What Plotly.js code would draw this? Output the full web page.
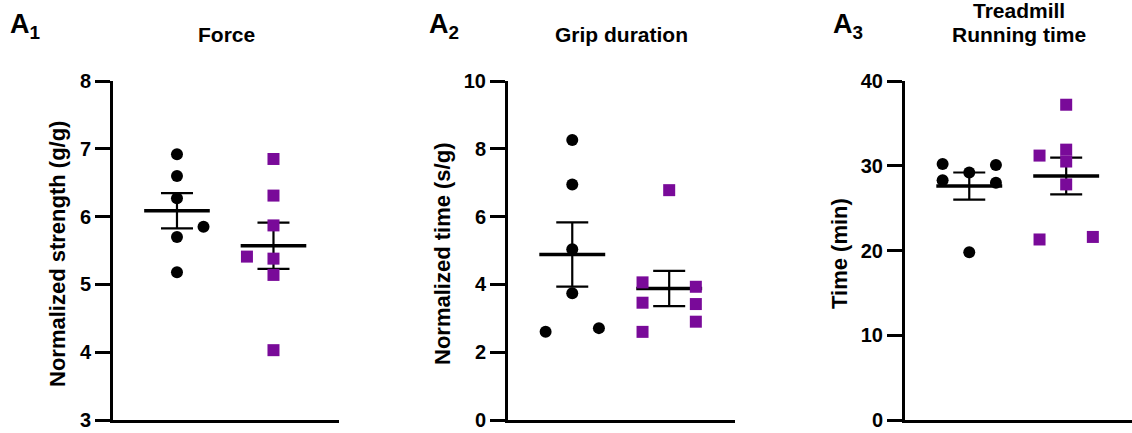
<!DOCTYPE html>
<html>
<head>
<meta charset="utf-8">
<script src="https://cdn.plot.ly/plotly-3.0.1.min.js"></script>
<style>html,body{margin:0;padding:0;background:#fff;}#chart{width:1132px;height:433px;}</style>
</head>
<body>
<div id="chart"></div>
<script>
// ---- data ----
const panelLetters = ['A<sub>1</sub>', 'A<sub>2</sub>', 'A<sub>3</sub>'];
const panelTitles = [['Force'], ['Grip duration'], ['Treadmill', 'Running time']];
const yTitles = ['Normalized strength (g/g)', 'Normalized time (s/g)', 'Time (min)'];
const yRanges = [[3, 8], [0, 10], [0, 40]];
const yDticks = [1, 2, 10];

// Force
const forceBlack = [6.92, 6.60, 6.27, 5.85, 5.70, 5.18];
const forceBlackCol = [0, 0, 0, 1, 0, 0];
const forcePurple = [6.85, 6.31, 5.87, 5.41, 5.38, 5.14, 4.03];
const forcePurpleCol = [0, 0, 0, -1, 0, 0, 0];
// Grip duration
const gripBlack = [8.26, 6.95, 5.04, 3.74, 2.60, 2.71];
const gripBlackCol = [0, 0, 0, 0, -1, 1];
const gripPurple = [6.78, 4.06, 3.46, 2.60, 3.93, 3.42, 2.90];
const gripPurpleCol = [0, -1, -1, -1, 1, 1, 1];
// Treadmill running time
const runBlack = [30.2, 28.3, 29.2, 19.8, 30.1, 28.0];
const runBlackCol = [-1, -1, 0, 0, 1, 1];
const runPurple = [37.2, 31.9, 30.5, 27.8, 31.2, 21.3, 21.6];
const runPurpleCol = [0, 0, 0, 0, -1, -1, 1];

const groups = [
  [[forceBlack, forceBlackCol], [forcePurple, forcePurpleCol]],
  [[gripBlack, gripBlackCol], [gripPurple, gripPurpleCol]],
  [[runBlack, runBlackCol], [runPurple, runPurpleCol]]
];

// ---- style ----
const BLACK = '#000000';
const PURPLE = '#790a99';
const colors = [BLACK, PURPLE];
const symbols = ['circle', 'square'];
const FONT = 'Liberation Sans, Arial, Helvetica, sans-serif';
const W = 1132, H = 433;
const xDomPx = [[113, 339], [508, 735], [905, 1132]];
const yTopPx = 81, yBotPx = 420;
const spread = 0.275;
const meanHalf = 0.34;

function mean(a) { return a.reduce((s, v) => s + v, 0) / a.length; }
function sem(a) {
  const m = mean(a);
  const v = a.reduce((s, x) => s + (x - m) * (x - m), 0) / (a.length - 1);
  return Math.sqrt(v) / Math.sqrt(a.length);
}

const traces = [];
const layout = {
  width: W, height: H,
  margin: {l: 0, r: 0, t: 0, b: 0},
  paper_bgcolor: '#fff', plot_bgcolor: '#fff',
  showlegend: false,
  hovermode: false,
  font: {family: FONT, color: BLACK},
  annotations: []
};

for (let p = 0; p < 3; p++) {
  const xa = p === 0 ? 'x' : 'x' + (p + 1);
  const ya = p === 0 ? 'y' : 'y' + (p + 1);
  const xKey = p === 0 ? 'xaxis' : 'xaxis' + (p + 1);
  const yKey = p === 0 ? 'yaxis' : 'yaxis' + (p + 1);
  layout[xKey] = {
    domain: [xDomPx[p][0] / W, xDomPx[p][1] / W],
    range: [0.337, 2.679],
    anchor: ya,
    showline: true, linewidth: 3, linecolor: BLACK,
    showgrid: false, zeroline: false, ticks: '', showticklabels: false, fixedrange: true
  };
  layout[yKey] = {
    domain: [(H - yBotPx) / H, (H - yTopPx) / H],
    range: yRanges[p],
    dtick: yDticks[p], tick0: 0,
    anchor: xa,
    showline: true, linewidth: 3, linecolor: BLACK,
    ticks: 'outside', ticklen: 15, tickwidth: 3, tickcolor: BLACK,
    showgrid: false, zeroline: false, fixedrange: true,
    tickfont: {family: FONT, size: 20, color: BLACK, weight: 700}
  };

  groups[p].forEach((g, gi) => {
    const vals = g[0], cols = g[1];
    const c = gi + 1;
    const m = mean(vals), s = sem(vals);
    // error bar (SEM)
    traces.push({
      type: 'scatter', mode: 'markers', xaxis: xa, yaxis: ya,
      x: [c], y: [m],
      marker: {size: 1, color: 'rgba(0,0,0,0)'},
      error_y: {type: 'data', array: [s], visible: true, width: 16, thickness: 2.2, color: BLACK},
      hoverinfo: 'skip'
    });
    // mean line
    traces.push({
      type: 'scatter', mode: 'lines', xaxis: xa, yaxis: ya,
      x: [c - meanHalf, c + meanHalf], y: [m, m],
      line: {color: BLACK, width: 3.5},
      hoverinfo: 'skip'
    });
    // points
    traces.push({
      type: 'scatter', mode: 'markers', xaxis: xa, yaxis: ya,
      x: cols.map(k => c + k * spread), y: vals,
      marker: {symbol: symbols[gi], size: 12, color: colors[gi], line: {width: 0}},
      hoverinfo: 'skip'
    });
  });

  const cx = (xDomPx[p][0] + xDomPx[p][1]) / 2 / W;
  // panel letter
  layout.annotations.push({
    xref: 'paper', yref: 'paper', x: [8, 427, 831][p] / W, y: (H - 26) / H,
    xanchor: 'left', yanchor: 'middle', showarrow: false,
    text: panelLetters[p],
    font: {family: FONT, size: 27, color: BLACK, weight: 700}
  });
  // panel title(s)
  const tl = panelTitles[p];
  tl.forEach((t, i) => {
    const ypx = 35 - (tl.length - 1 - i) * 24;
    layout.annotations.push({
      xref: 'paper', yref: 'paper', x: cx, y: (H - ypx) / H,
      xanchor: 'center', yanchor: 'middle', showarrow: false,
      text: t,
      font: {family: FONT, size: 21, color: BLACK, weight: 700}
    });
  });
  // y axis title
  layout.annotations.push({
    xref: 'paper', yref: 'paper', x: [58, 443, 840][p] / W, y: (H - 254) / H,
    xanchor: 'center', yanchor: 'middle', showarrow: false, textangle: -90,
    text: yTitles[p],
    font: {family: FONT, size: 22, color: BLACK, weight: 700}
  });
}

Plotly.newPlot('chart', traces, layout, {staticPlot: true, displayModeBar: false});
</script>
</body>
</html>
